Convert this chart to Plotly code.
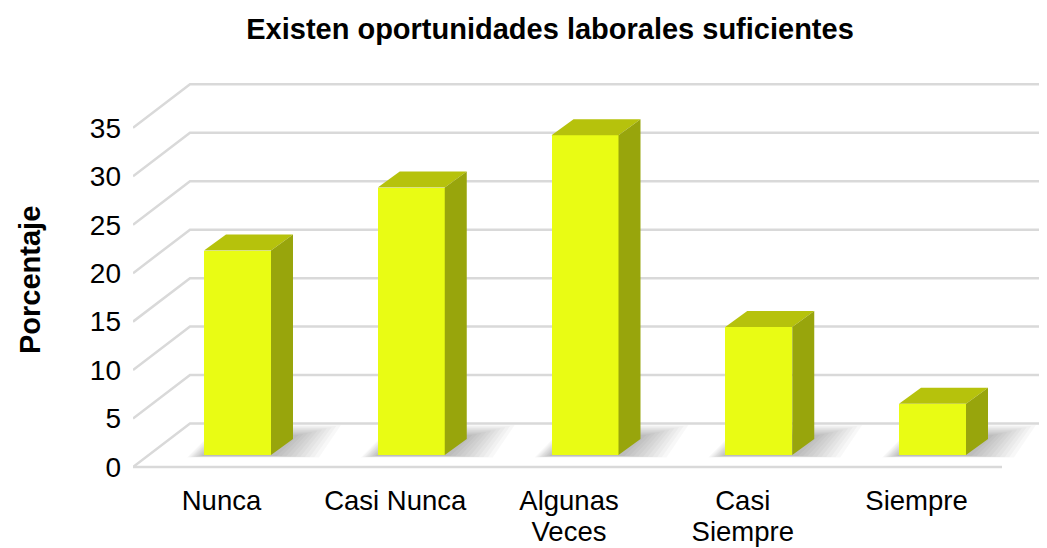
import plotly.graph_objects as go

categorias = ["Nunca", "Casi Nunca", "Algunas Veces", "Casi Siempre", "Siempre"]
linea1 = ["Nunca", "Casi Nunca", "Algunas", "Casi", "Siempre"]
linea2 = ["", "", "Veces", "Siempre", ""]
porcentaje = [21.1, 27.6, 33.0, 13.2, 5.3]
ticks_y = [0, 5, 10, 15, 20, 25, 30, 35]

# the page puts the figure 8px in from the top-left corner
pag = 8
W, H = 1047 - pag, 548 - pag

# pixel scale of the plot area (used to turn the 3d look into data offsets)
px_x = 173.75   # px per category
px_y = 9.69     # px per percent
izq, der, arriba, abajo = 133, 1047, 60, 481   # plot area, page px
cero_px = 467                                   # page px of value 0 (front plane)
cat0_px = 221.5                                 # page px of the first category

# depth of the floor / back wall and of the bars
fondo_dx = 57 / px_x
fondo_dy = 43.5 / px_y
barra_dx = 16 / px_x
barra_dy = 12 / px_y
prof_dx = 22 / px_x
prof_dy = 16 / px_y
ancho = 67 / px_x

x_min = (izq - cat0_px) / px_x
x_max = (der - cat0_px) / px_x
y_min = (cero_px - abajo) / px_y
y_max = (cero_px - arriba) / px_y

fig = go.Figure()

gris = "#D9D9D9"

# back wall gridlines
for v in ticks_y:
    fig.add_trace(go.Scatter(
        x=[x_min, x_min + fondo_dx, x_max],
        y=[v, v + fondo_dy, v + fondo_dy],
        mode="lines", line=dict(color=gris, width=2.5),
        hoverinfo="skip", showlegend=False))

# front edge of the floor
fig.add_trace(go.Scatter(
    x=[x_min, (1002 - cat0_px) / px_x], y=[0, 0],
    mode="lines", line=dict(color=gris, width=2.5),
    hoverinfo="skip", showlegend=False))

# soft shadows on the floor
for i, v in enumerate(porcentaje):
    xl = i + barra_dx - ancho / 2
    xr = xl + ancho
    b = barra_dy
    for k in range(10):
        e = k / 9
        sx0 = xl - (2 + 15 * e) / px_x
        sx1 = xr + (6 + 42 * e) / px_x
        top = b + prof_dy + (4 + 10 * e) / px_y
        bot = b - (1 + 1.5 * e) / px_y
        fig.add_trace(go.Scatter(
            x=[sx0, sx1, sx1 + prof_dx, sx0 + prof_dx + 10 * e / px_x, sx0],
            y=[bot, bot, top, top, bot],
            mode="lines", fill="toself", line=dict(width=0),
            fillcolor="rgba(0,0,0,0.028)",
            hoverinfo="skip", showlegend=False))

# front faces (on the overlaid axes so they sit above the grid)
fig.add_trace(go.Bar(
    x=[i + barra_dx for i in range(len(porcentaje))],
    y=porcentaje, base=barra_dy, width=ancho,
    marker=dict(color="#E9FC14", line=dict(width=0)),
    showlegend=False, hovertext=categorias, xaxis="x2", yaxis="y2"))

# top and side faces
for i, v in enumerate(porcentaje):
    xl = i + barra_dx - ancho / 2
    xr = xl + ancho
    b = barra_dy
    t = barra_dy + v
    fig.add_trace(go.Scatter(
        x=[xl, xr, xr + prof_dx, xl + prof_dx, xl],
        y=[t, t, t + prof_dy, t + prof_dy, t],
        mode="lines", fill="toself", line=dict(width=0),
        fillcolor="#B6C20C", hoverinfo="skip", showlegend=False,
        xaxis="x2", yaxis="y2"))
    fig.add_trace(go.Scatter(
        x=[xr, xr + prof_dx, xr + prof_dx, xr, xr],
        y=[b, b + prof_dy, t + prof_dy, t, b],
        mode="lines", fill="toself", line=dict(width=0),
        fillcolor="#98A50C", hoverinfo="skip", showlegend=False,
        xaxis="x2", yaxis="y2"))

# second line of the category labels
fig.add_trace(go.Scatter(x=[0], y=[0], mode="markers", marker=dict(opacity=0),
                         hoverinfo="skip", showlegend=False,
                         xaxis="x3", yaxis="y2"))

fig.update_layout(
    width=W, height=H,
    margin=dict(l=izq - pag, r=1047 - der, t=arriba - pag, b=548 - abajo,
                autoexpand=False),
    paper_bgcolor="white", plot_bgcolor="white",
    font=dict(family="Liberation Sans, Arial, sans-serif", size=28, color="black"),
    title=dict(text="<b>Existen oportunidades laborales suficientes</b>",
               x=(550 - pag) / W, xref="container", xanchor="center",
               y=1 - (29 - pag) / H, yref="container", yanchor="middle",
               font=dict(size=29)),
    xaxis=dict(range=[x_min, x_max], showgrid=False, zeroline=False,
               showline=False, ticks="", automargin=False,
               tickvals=list(range(len(linea1))), ticktext=linea1,
               ticklabelstandoff=0, tickfont=dict(size=27.5)),
    yaxis=dict(range=[y_min, y_max], showgrid=False, zeroline=False,
               showline=False, ticks="", tickvals=ticks_y, automargin=False,
               ticklabelstandoff=11),
    xaxis2=dict(range=[x_min, x_max], overlaying="x", visible=False),
    yaxis2=dict(range=[y_min, y_max], overlaying="y", visible=False),
    xaxis3=dict(range=[x_min, x_max], overlaying="x", showgrid=False,
                zeroline=False, showline=False, ticks="", automargin=False,
                side="bottom", anchor="y2",
                tickvals=list(range(len(linea2))), ticktext=linea2,
                ticklabelstandoff=31, tickfont=dict(size=27.5)),
    annotations=[dict(text="<b>Porcentaje</b>", textangle=-90,
                      xref="paper", yref="paper",
                      x=(30 - izq) / (der - izq), y=(abajo - 280) / (abajo - arriba),
                      xanchor="center", yanchor="middle",
                      showarrow=False, font=dict(size=29))],
    bargap=0,
)

fig.write_html("out.html")
